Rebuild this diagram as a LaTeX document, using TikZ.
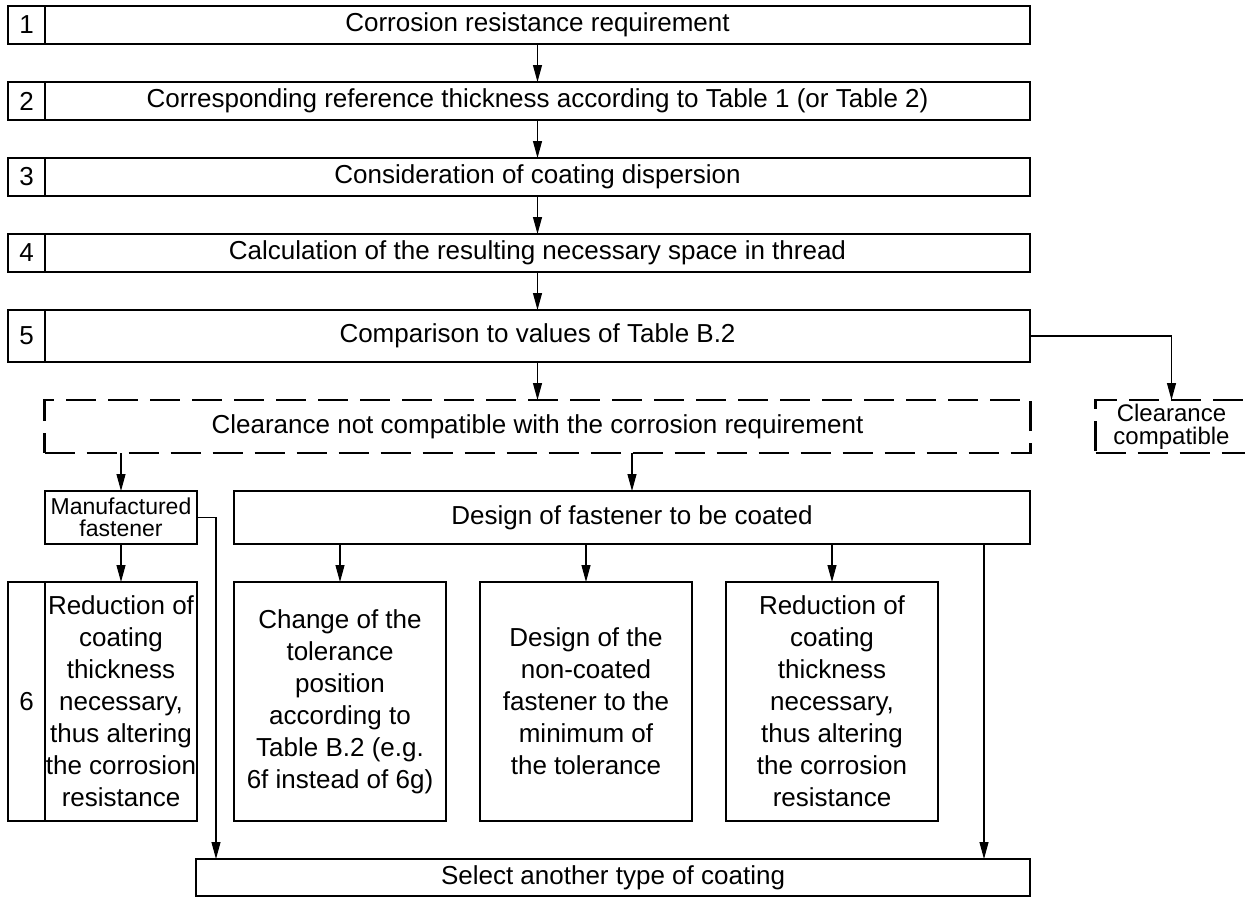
\documentclass[tikz,border=0pt]{standalone}
\usepackage{fontspec}
\setmainfont{Liberation Sans}
\usepackage{tikz}
\usetikzlibrary{arrows.meta, positioning}

\begin{document}
\begin{tikzpicture}[
    x=1pt, y=-1pt,
    cell/.style={rectangle, draw, line width=2.3pt, outer sep=0pt, inner sep=0pt, align=center, font={\fontsize{26}{32}\selectfont}},
    numcell/.style={cell, minimum width=37pt, minimum height=38pt},
    stepbox/.style={cell, minimum width=985pt, minimum height=38pt},
    dashbox/.style={cell, dash pattern=on 30pt off 12pt, minimum height=53pt},
    tallbox/.style={cell, minimum width=212pt, minimum height=239pt},
    link/.style={-{Triangle[length=17pt, width=9pt]}, line width=1.1pt}
]
    \useasboundingbox (0,0) rectangle (1245,897);

    % steps 1 to 5
    \node[stepbox] (req) at (537.5,25) {Corrosion resistance requirement};
    \node[stepbox, below=38pt of req] (thick) {Corresponding reference thickness according to Table 1 (or Table 2)};
    \node[stepbox, below=38pt of thick] (disp) {Consideration of coating dispersion};
    \node[stepbox, below=38pt of disp] (space) {Calculation of the resulting necessary space in thread};
    \node[stepbox, minimum height=52pt, below=38pt of space] (cmp) {Comparison to values of Table B.2};

    \node[numcell, left=0pt of req] (n1) {1};
    \node[numcell, left=0pt of thick] (n2) {2};
    \node[numcell, left=0pt of disp] (n3) {3};
    \node[numcell, left=0pt of space] (n4) {4};
    \node[numcell, minimum height=52pt, left=0pt of cmp] (n5) {5};

    % outcome of the comparison
    \node[dashbox, minimum width=986pt, below=38pt of cmp] (clash) {Clearance not compatible with the corrosion requirement};
    \node[dashbox, minimum width=152pt, right=65pt of clash, font={\fontsize{24}{23}\selectfont}] (fits) {Clearance\\compatible};

    \node[cell, minimum width=152pt, minimum height=53pt, font={\fontsize{23}{22}\selectfont}] (manuf) at (121,517.5) {Manufactured\\fastener};
    \node[cell, minimum width=796pt, minimum height=53pt, right=37pt of manuf] (design) {Design of fastener to be coated};

    % step 6
    \node[cell, minimum width=152pt, minimum height=239pt, below=38pt of manuf] (cut6) {Reduction of\\coating\\thickness\\necessary,\\thus altering\\the corrosion\\resistance};
    \node[numcell, minimum height=239pt, left=0pt of cut6] (n6) {6};
    \node[tallbox, below=38pt of design.south west, anchor=north west] (shift) {Change of the\\tolerance\\position\\according to\\Table B.2 (e.g.\\6f instead of 6g)};
    \node[tallbox, right=34pt of shift] (minim) {Design of the\\non-coated\\fastener to the\\minimum of\\the tolerance};
    \node[tallbox, right=34pt of minim] (cut) {Reduction of\\coating\\thickness\\necessary,\\thus altering\\the corrosion\\resistance};

    \node[cell, minimum width=834pt, minimum height=37pt, anchor=north west] (other) at (196,859) {Select another type of coating};

    % connectors
    \foreach \a/\b in {req/thick, thick/disp, disp/space, space/cmp, cmp/clash, manuf/cut6}
        \draw[link] (\a) -- (\b);
    \draw[link] (cmp.east) -| (fits.north);
    \draw[link] (manuf.north |- clash.south) -- (manuf);
    \draw[link] (design.north |- clash.south) -- (design);
    \foreach \b in {shift, minim, cut}
        \draw[link] (\b.north |- design.south) -- (\b);
    \draw[link] (manuf.east) -- ++(19pt,0) coordinate (bend) -- (bend |- other.north);
    \coordinate (tap) at ([xshift=-46pt]design.south east);
    \draw[link] (tap) -- (tap |- other.north);
\end{tikzpicture}
\end{document}
